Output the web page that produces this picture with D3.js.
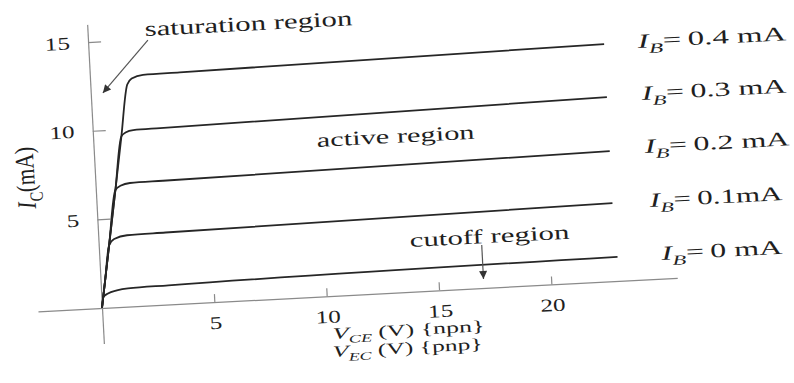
<!DOCTYPE html>
<html>
<head>
<meta charset="utf-8">
<script src="https://cdn.jsdelivr.net/npm/d3@7"></script>
<style>
  body { margin: 0; background: #fff; }
  text { font-family: "Liberation Serif", "DejaVu Serif", serif; fill: #1f1f1f; }
</style>
</head>
<body>
<div id="chart"></div>
<script>
// base current of each curve (mA) and its label text
const baseCurrents = [0, 0.1, 0.2, 0.3, 0.4];
const curveLabels = ["0 mA", "0.1mA", "0.2 mA", "0.3 mA", "0.4 mA"];

// collector curves, [V_CE (V), I_C (mA)]
const curveIb0 = [[0, 0], [0.08, 0.6], [0.3, 0.8], [0.7, 0.95], [1.2, 1.03], [3, 1.08], [23, 1.36]];
const curveIb1 = [[0, 0], [0.2, 1.52], [0.46, 3.5], [0.7, 3.85], [1.28, 4.02], [3, 4.06], [22.9, 4.4]];
const curveIb2 = [[0, 0], [0.46, 3.5], [0.87, 6.6], [1.1, 6.82], [1.53, 6.95], [3, 6.98], [22.9, 7.33]];
const curveIb3 = [[0, 0], [0.46, 3.5], [0.87, 6.6], [1.26, 9.6], [1.45, 9.8], [1.8, 9.92], [3, 9.95], [22.9, 10.38]];
const curveIb4 = [[0, 0], [0.46, 3.5], [0.87, 6.6], [1.26, 9.6], [1.64, 12.5], [1.85, 12.82], [2.36, 13.0], [4, 13.03], [22.9, 13.37]];
const curves = [curveIb0, curveIb1, curveIb2, curveIb3, curveIb4];

// where each curve label starts (V, mA)
const labelAtV = [24.96, 24.56, 24.46, 24.45, 24.39];
const labelAtI = [1.05, 4.07, 7.12, 10.11, 13.05];

const xTicks = [5, 10, 15, 20];
const yTicks = [5, 10, 15];
const xExtent = [-2.85, 25.6];
const yExtent = [-2, 16];

const width = 794, height = 383;
const pxPerV = 22.5, pxPerMA = 17.75;
const stretch = 1.4; // the scan is wider than it is tall

const svg = d3.select("#chart").append("svg")
    .attr("width", width)
    .attr("height", height)
    .attr("viewBox", [0, 0, width, height]);

// the whole figure sits a little tilted, like the scan
const g = svg.append("g").attr("transform", "translate(102,308) rotate(-3)");

const x = d3.scaleLinear().domain(xExtent).range(xExtent.map(v => v * pxPerV));
const y = d3.scaleLinear().domain(yExtent).range(yExtent.map(v => -v * pxPerMA));

const axisColor = "#8a8a8a";

g.append("g")
    .attr("transform", `translate(0,${y(0)})`)
    .call(d3.axisBottom(x).tickValues(xTicks).tickSizeInner(-8).tickSizeOuter(0).tickPadding(14))
    .call(s => s.select(".domain").attr("stroke", axisColor).attr("stroke-width", 1.2))
    .call(s => s.selectAll(".tick line").attr("stroke", axisColor).attr("stroke-width", 1.2))
    .call(s => s.selectAll(".tick text")
        .attr("font-size", 18).attr("font-family", null).attr("fill", "#1f1f1f")
        .attr("transform", `scale(${stretch},1)`));

g.append("g")
    .attr("transform", `translate(${x(0)},0)`)
    .call(d3.axisLeft(y).tickValues(yTicks).tickSizeInner(-13).tickSizeOuter(0).tickPadding(13))
    .call(s => s.select(".domain").attr("stroke", axisColor).attr("stroke-width", 1.2))
    .call(s => s.selectAll(".tick line").attr("stroke", axisColor).attr("stroke-width", 1.2))
    .call(s => s.selectAll(".tick text")
        .attr("font-size", 18).attr("font-family", null).attr("fill", "#1f1f1f")
        .attr("transform", `scale(${stretch},1)`));

const line = d3.line()
    .x(d => x(d[0]))
    .y(d => y(d[1]))
    .curve(d3.curveMonotoneX);

g.append("g")
  .selectAll("path")
  .data(curves)
  .join("path")
    .attr("fill", "none")
    .attr("stroke", "#262626")
    .attr("stroke-width", 1.8)
    .attr("d", line);

// text built from parts: {t, i: italic, sub: subscript}
function label(parent, parts, size, px, py, targetW, opts = {}) {
    const t = parent.append("text").attr("font-size", size);
    let shift = 0;
    parts.forEach(p => {
        const s = t.append("tspan").text(p.t);
        if (p.i) s.attr("font-style", "italic");
        const want = p.sub ? size * 0.28 : 0;
        if (p.sub) s.attr("font-size", size * 0.7);
        if (want !== shift) { s.attr("dy", want - shift); shift = want; }
    });
    const w = t.node().getComputedTextLength();
    if (opts.vertical) {
        t.attr("text-anchor", "middle")
         .attr("transform", `translate(${px},${py}) rotate(-90) scale(${targetW / w},${stretch})`);
    } else {
        t.attr("transform", `translate(${px},${py}) scale(${targetW / w},1)`);
    }
    return t;
}

const note = g.append("g");
label(note, [{t: "saturation region"}], 21, x(2.54), y(15.17), 208);
label(note, [{t: "active region"}], 20, x(9.92), y(8.43), 158);
label(note, [{t: "cutoff region"}], 20, x(13.81), y(2.52), 160);

const labelWidths = [121, 133, 145, 145, 149];
baseCurrents.forEach((ib, k) => {
    label(note, [{t: "I", i: true}, {t: "B", i: true, sub: true}, {t: "=\u2009" + curveLabels[k]}],
        20, x(labelAtV[k]), y(labelAtI[k]), labelWidths[k]);
});

label(note, [{t: "V", i: true}, {t: "CE", i: true, sub: true}, {t: " (V) {npn}"}], 16, x(10.18), y(-2.43), 152);
label(note, [{t: "V", i: true}, {t: "EC", i: true, sub: true}, {t: " (V) {pnp}"}], 16, x(10.14), y(-3.44), 150);
label(note, [{t: "I", i: true}, {t: "C", sub: true}, {t: "(mA)"}], 19, x(-3.19) + 11, y(7.88) + 6, 62, {vertical: true});

// arrows
svg.append("defs").append("marker")
    .attr("id", "head")
    .attr("viewBox", "0 -5 10 10")
    .attr("refX", 10).attr("refY", 0)
    .attr("markerWidth", 10).attr("markerHeight", 8)
    .attr("markerUnits", "userSpaceOnUse")
    .attr("orient", "auto")
  .append("path")
    .attr("d", "M0,-5L10,0L0,5Z")
    .attr("fill", "#333");

const arrows = [
    [[2.66, 14.94], [0.54, 12.1]],
    [[17.0, 2.42], [17.0, 0.51]]
];
g.append("g")
  .selectAll("line")
  .data(arrows)
  .join("line")
    .attr("x1", d => x(d[0][0])).attr("y1", d => y(d[0][1]))
    .attr("x2", d => x(d[1][0])).attr("y2", d => y(d[1][1]))
    .attr("stroke", "#555")
    .attr("stroke-width", 1.2)
    .attr("marker-end", "url(#head)");
</script>
</body>
</html>
